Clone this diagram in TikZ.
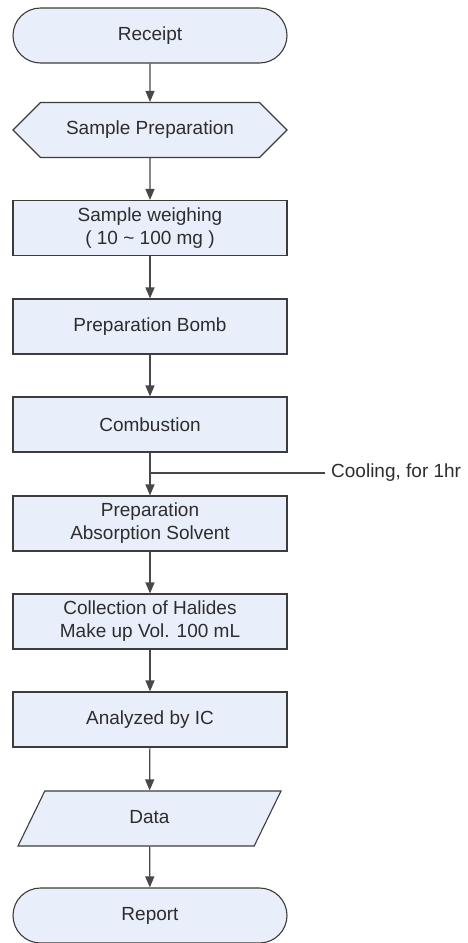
\documentclass[tikz,border=0pt]{standalone}
\usepackage{fontspec}
\setmainfont{Liberation Sans}
\usepackage{tikz}
\usetikzlibrary{positioning}
\usetikzlibrary{arrows.meta}
\usetikzlibrary{shapes.misc}
\usetikzlibrary{shapes.symbols}
\usetikzlibrary{shapes.geometric}
\definecolor{boxfill}{RGB}{232,238,250}
\definecolor{boxline}{RGB}{60,60,60}
\definecolor{flowline}{RGB}{72,72,72}
\definecolor{labeltext}{RGB}{45,45,45}
\begin{document}
\begin{tikzpicture}[x=1pt, y=-1pt,
    every node/.style={font=\fontsize{19}{23}\selectfont, text=labeltext, align=center},
    base/.style={draw=boxline, fill=boxfill, line width=1.1pt, inner sep=0pt, minimum height=55pt},
    terminal/.style={base, rounded rectangle, minimum width=274pt},
    prepbox/.style={base, signal, signal to=west and east, signal pointer angle=90, minimum width=274pt},
    procbox/.style={base, rectangle, minimum width=274pt},
    iobox/.style={base, trapezium, trapezium left angle=64, trapezium right angle=116, trapezium stretches body,
      text height=14pt, text depth=4pt, inner ysep=18.5pt, minimum width=263pt},
    flow/.style={draw=flowline, line width=1.2pt, -{Triangle[width=9pt, length=11pt]}}]
				    		\useasboundingbox (0,0) rectangle (468,943);
				    		\node[terminal] (receipt) at (150, 35.5) {Receipt};
				    		\node[prepbox] (prep) at (150, 130) {Sample Preparation};
				    		\node[procbox] (weigh) at (150, 228) {Sample weighing\\( 10 \char`\~{} 100 mg )};
				    		\node[procbox] (bomb) at (150, 326.5) {Preparation Bomb};
				    		\node[procbox] (comb) at (150, 424.5) {Combustion};
				    		\node[procbox] (absorb) at (150, 523.5) {Preparation\\Absorption Solvent};
				    		\node[procbox] (collect) at (150, 621.5) {Collection of Halides\\Make up Vol. 100 mL};
				    		\node[procbox] (ic) at (150, 719.5) {Analyzed by IC};
				    		\node[iobox] (data) at (149.5, 818.5) {Data};
				    		\node[terminal] (report) at (150, 915.5) {Report};
				    		\node[anchor=west, inner sep=6pt] (coolnote) at (325, 473) {Cooling, for 1hr};
				    		\coordinate (cool) at (150, 473);
				    		\draw[flow] (receipt) -- (prep);
				    		\draw[flow] (prep) -- (weigh);
				    		\draw[flow] (weigh) -- (bomb);
				    		\draw[flow] (bomb) -- (comb);
				    		\draw[flow] (comb) -- (absorb);
				    		\draw[draw=flowline, line width=1.2pt] (cool) -- (coolnote.west);
				    		\draw[flow] (absorb) -- (collect);
				    		\draw[flow] (collect) -- (ic);
				    		\draw[flow] (ic) -- (data);
				    		\draw[flow] (data) -- (report);
				    	\end{tikzpicture}
\end{document}
